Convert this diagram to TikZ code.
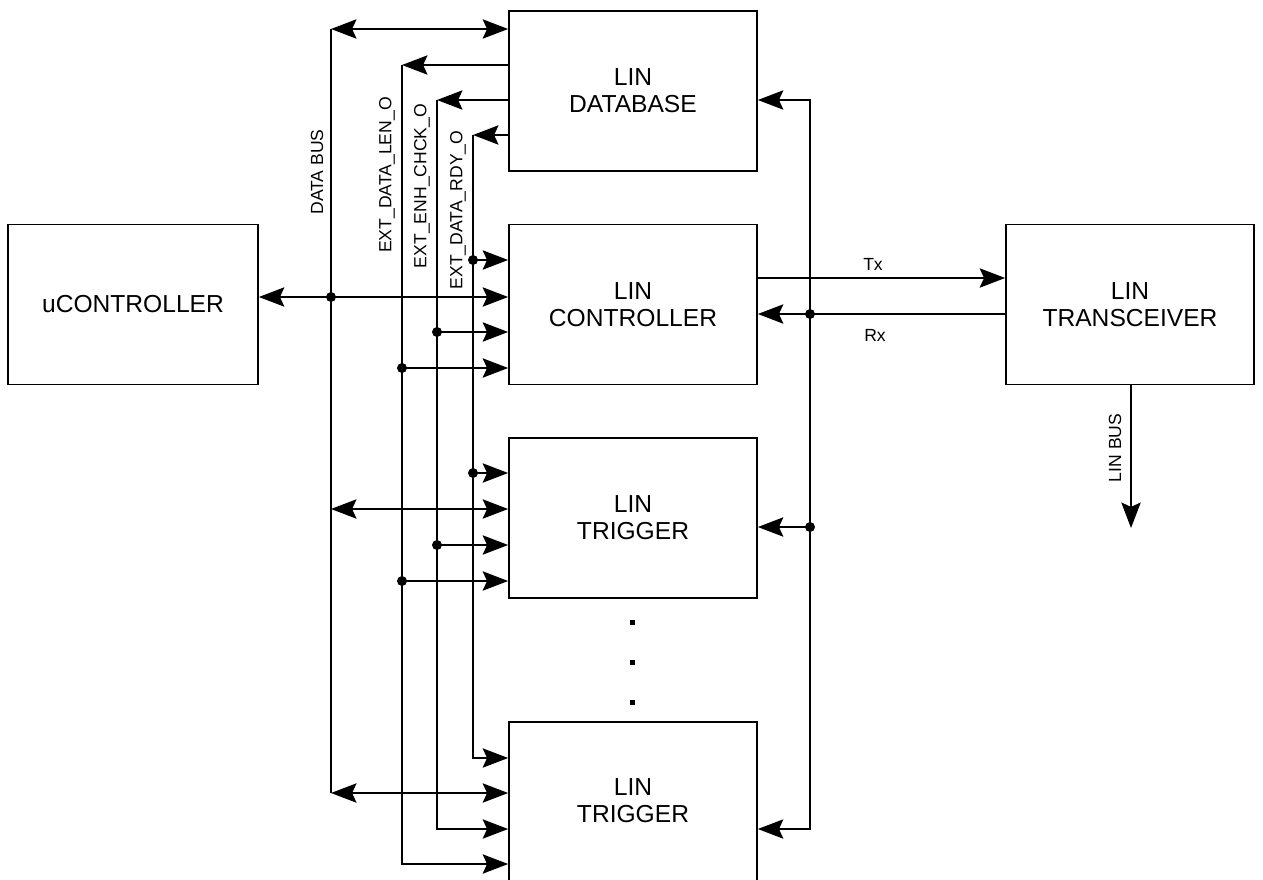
\documentclass[tikz,border=0pt]{standalone}
\usepackage{fontspec}
\setmainfont{Liberation Sans}
\usetikzlibrary{arrows.meta,positioning,calc}

\begin{document}
\begin{tikzpicture}[
    x=0.02cm, y=-0.02cm,
    >={Stealth[length=14.5pt,width=11pt,inset=2.5pt]},
    line width=1pt,
    font=\fontsize{14}{15.5}\selectfont,
    box/.style={
        draw=black,
        line width=1pt,
        minimum width=4.96cm,
        minimum height=3.2cm,
        align=center,
        inner sep=0pt
    },
    lbl/.style={font=\fontsize{10}{11}\selectfont, inner sep=0pt},
    vlbl/.style={lbl, rotate=90},
    arr/.style={->},
    darr/.style={<->}
]
\useasboundingbox (0,0) rectangle (1263,879);

\node[box] (db) at (633,91) {LIN\\DATABASE};
\node[box] (ctrl) at (633,304.5) {LIN\\CONTROLLER};
\node[box] (trig1) at (633,518) {LIN\\TRIGGER};
\node[box, minimum height=3.6cm] (trig2) at (633,812) {};
\node[align=center] (trig2t) at (633,801) {LIN\\TRIGGER};
\node[box, minimum width=5cm] (uc) at (133,304.5) {uCONTROLLER};
\node[box] (xcvr) at (1130,304.5) {LIN\\TRANSCEIVER};

\coordinate (bus-top) at (331,29);
\coordinate (bus-c) at (331,297);
\coordinate (bus-t1) at (331,509);
\coordinate (bus-t2) at (331,793);
\coordinate (len-top) at (402,65);
\coordinate (len-c) at (402,368);
\coordinate (len-t1) at (402,581);
\coordinate (len-t2) at (402,864);
\coordinate (chk-top) at (437,100);
\coordinate (chk-c) at (437,332);
\coordinate (chk-t1) at (437,545);
\coordinate (chk-t2) at (437,829);
\coordinate (rdy-top) at (473,135);
\coordinate (rdy-c) at (473,260);
\coordinate (rdy-t1) at (473,473);
\coordinate (rdy-t2) at (473,758);
\coordinate (fb-top) at (810,100);
\coordinate (fb-c) at (810,314);
\coordinate (fb-t1) at (810,527);
\coordinate (fb-t2) at (810,829);
\coordinate (tx) at (810,278);
\coordinate (linbus) at (1131,528);

\draw[darr] (bus-top) -- (bus-top -| db.west);
\draw (bus-top) -- (bus-t2);
\draw[darr] (uc.east |- bus-c) -- (bus-c -| ctrl.west);
\draw[darr] (bus-t1) -- (bus-t1 -| trig1.west);
\draw[darr] (bus-t2) -- (bus-t2 -| trig2.west);

\foreach \s in {len,chk,rdy}{
    \draw[arr] (\s-top -| db.west) -- (\s-top);
    \draw[arr] (\s-top) -- (\s-t2) -- (\s-t2 -| trig2.west);
    \draw[arr] (\s-c) -- (\s-c -| ctrl.west);
    \draw[arr] (\s-t1) -- (\s-t1 -| trig1.west);
}

\draw[darr] (db.east |- fb-top) -- (fb-top) -- (fb-t2) -- (trig2.east |- fb-t2);
\draw[arr] (fb-t1) -- (fb-t1 -| trig1.east);
\draw[arr] (ctrl.east |- tx) -- (tx -| xcvr.west);
\draw[arr] (xcvr.west |- fb-c) -- (fb-c -| ctrl.east);
\draw[arr] (xcvr.south -| linbus) -- (linbus);

\foreach \p in {bus-c,len-c,chk-c,rdy-c,len-t1,chk-t1,rdy-t1,fb-c,fb-t1}
    \fill (\p) circle[radius=0.1cm];

\foreach \y in {622,662,702}
    \fill (632,\y) ++(-2.5,-2.5) rectangle ++(5,5);

\node[vlbl] (busl) at (317,172) {DATA BUS};
\node[vlbl] (lenl) at (387,175) {EXT\_DATA\_LEN\_O};
\node[vlbl] (chkl) at (422,186) {EXT\_ENH\_CHCK\_O};
\node[vlbl] (rdyl) at (458,210) {EXT\_DATA\_RDY\_O};
\node[lbl] (txl) at (873,264) {Tx};
\node[lbl] (rxl) at (875,335) {Rx};
\node[vlbl] (linl) at (1115,448) {LIN BUS};

\end{tikzpicture}
\end{document}
